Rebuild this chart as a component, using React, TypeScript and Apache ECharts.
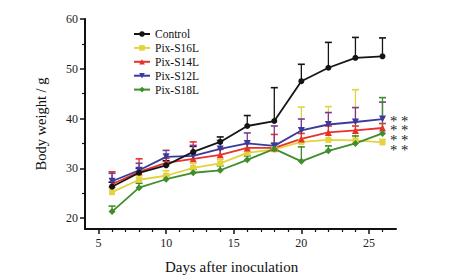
import React, { useEffect, useRef } from "react";
import * as echarts from "echarts";

const days = [6, 8, 10, 12, 14, 16, 18, 20, 22, 24, 26];
const seriesNames = ["Control", "Pix-S16L", "Pix-S14L", "Pix-S12L", "Pix-S18L"];
const controlMean = [26.3, 29.1, 30.6, 33.3, 35.3, 38.5, 39.5, 47.5, 50.2, 52.2, 52.5];
const controlTop = [27.2, 30.0, 31.5, 34.4, 36.3, 40.6, 46.2, 50.9, 55.3, 56.3, 56.2];
const s16Mean = [25.2, 27.7, 28.5, 30.1, 31.0, 33.1, 33.8, 35.3, 35.7, 35.6, 35.2];
const s16Top = [26.2, 28.5, 29.5, 31.0, 31.8, 34.0, 35.0, 42.3, 42.4, 45.8, 35.8];
const s14Mean = [26.8, 29.3, 31.1, 31.9, 32.7, 34.1, 34.1, 35.9, 37.2, 37.6, 38.1];
const s14Top = [29.3, 31.9, 32.0, 35.3, 33.8, 35.0, 36.8, 37.0, 38.5, 38.5, 39.0];
const s12Mean = [27.4, 29.6, 32.3, 32.5, 33.9, 35.0, 34.5, 37.6, 38.8, 39.3, 39.9];
const s12Top = [29.0, 31.0, 33.6, 34.6, 35.6, 37.1, 38.5, 39.9, 41.2, 42.2, 43.3];
const s18Mean = [21.3, 26.1, 27.8, 29.1, 29.6, 31.7, 33.9, 31.4, 33.5, 35.0, 37.0];
const s18Top = [22.4, 27.0, 28.5, 29.8, 30.5, 32.5, 35.0, 34.3, 34.5, 36.5, 44.2];
const yLabelValues = [20, 30, 40, 50, 60];
const yMinorValues = [25, 35, 45, 55];
const xLabelValues = [5, 10, 15, 20, 25];
const xMinorValues = [6, 7, 8, 9, 11, 12, 13, 14, 16, 17, 18, 19, 21, 22, 23, 24, 26];
const stars = ["* *", "* *", "* *", "* *"];

const FONT = "Liberation Serif";

export default function App() {
  const ref = useRef<HTMLDivElement>(null);
  useEffect(() => {
    if (!ref.current) return;
    const chart = echarts.init(ref.current, undefined, { renderer: "svg" });
    const groups = [
      { name: seriesNames[0], mean: controlMean, top: controlTop, color: "#151515", err: "#151515", symbol: "circle", size: 6, rot: 0 },
      { name: seriesNames[1], mean: s16Mean, top: s16Top, color: "#e4d33e", err: "#e4d33e", symbol: "rect", size: 6, rot: 0 },
      { name: seriesNames[2], mean: s14Mean, top: s14Top, color: "#e8312c", err: "#e8312c", symbol: "triangle", size: 7, rot: 0 },
      { name: seriesNames[3], mean: s12Mean, top: s12Top, color: "#3a3a9c", err: "#7a3a92", symbol: "triangle", size: 7, rot: 180 },
      { name: seriesNames[4], mean: s18Mean, top: s18Top, color: "#3f8e2c", err: "#3f8e2c", symbol: "diamond", size: 7, rot: 0 },
    ];
    const errSeries = groups.map((g) => ({
      type: "custom",
      name: g.name + " err",
      xAxisIndex: 0,
      yAxisIndex: 0,
      data: days.map((d, i) => [d, g.mean[i], g.top[i]]),
      encode: { x: 0, y: [1, 2] },
      renderItem: (params: any, api: any) => {
        const x = api.value(0);
        const p0 = api.coord([x, api.value(1)]);
        const p1 = api.coord([x, api.value(2)]);
        return {
          type: "group",
          children: [
            { type: "line", shape: { x1: p0[0], y1: p0[1], x2: p1[0], y2: p1[1] }, style: { stroke: g.err, lineWidth: 1.3 } },
            { type: "line", shape: { x1: p1[0] - 3.5, y1: p1[1], x2: p1[0] + 3.5, y2: p1[1] }, style: { stroke: g.err, lineWidth: 1.6 } },
          ],
        };
      },
      z: 1,
    }));
    const lineSeries = groups.map((g, k) => ({
      type: "line",
      name: g.name,
      xAxisIndex: 0,
      yAxisIndex: 0,
      data: days.map((d, i) => [d, g.mean[i]]),
      symbol: g.symbol,
      symbolSize: g.size,
      symbolRotate: g.rot,
      lineStyle: { color: g.color, width: 1.8 },
      itemStyle: { color: g.color },
      z: 3 + (k === 0 ? 5 : 0),
    }));
    const axisBase = {
      type: "value",
      axisLine: { show: true, lineStyle: { color: "#111", width: 2 } },
      splitLine: { show: false },
    };
    chart.setOption({
      animation: false,
      backgroundColor: "#ffffff",
      textStyle: { fontFamily: FONT },
      grid: { left: 85, right: 69, top: 19, bottom: 51 },
      legend: {
        data: seriesNames,
        orient: "vertical",
        left: 128,
        top: 23,
        itemWidth: 16,
        itemHeight: 7,
        itemGap: 1.9,
        textStyle: { fontFamily: FONT, fontSize: 11.5, color: "#111", lineHeight: 12 },
      },
      xAxis: [
        {
          ...axisBase,
          min: 4,
          max: 27,
          position: "bottom",
          axisTick: { show: true, customValues: xLabelValues, length: 5, lineStyle: { color: "#111", width: 1.5 } },
          axisLabel: { customValues: xLabelValues, fontFamily: FONT, fontSize: 12, color: "#222", margin: 8 },
        },
        {
          ...axisBase,
          min: 4,
          max: 27,
          position: "bottom",
          axisLine: { show: false },
          axisTick: { show: true, customValues: xMinorValues, length: 3, lineStyle: { color: "#111", width: 1.2 } },
          axisLabel: { show: false },
        },
      ],
      yAxis: [
        {
          ...axisBase,
          min: 17.8,
          max: 60,
          position: "left",
          name: "Body weight / g",
          nameLocation: "middle",
          nameGap: 37,
          nameTextStyle: { fontFamily: FONT, fontSize: 14.5, color: "#111" },
          axisTick: { show: true, customValues: yLabelValues, length: 5, lineStyle: { color: "#111", width: 1.5 } },
          axisLabel: { customValues: yLabelValues, fontFamily: FONT, fontSize: 12, color: "#222", margin: 7 },
        },
        {
          ...axisBase,
          min: 17.8,
          max: 60,
          position: "left",
          axisLine: { show: false },
          axisTick: { show: true, customValues: yMinorValues, length: 3, lineStyle: { color: "#111", width: 1.2 } },
          axisLabel: { show: false },
        },
      ],
      graphic: [
        {
          type: "text",
          left: 165,
          top: 259,
          style: { text: "Days after inoculation", font: `15px "${FONT}"`, fill: "#111" },
        },
        ...stars.map((s, i) => ({
          type: "text",
          x: 390,
          y: 120.5 + i * 9.8,
          scaleX: 1.55,
          scaleY: 1.55,
          style: { text: s, font: `9.5px "${FONT}"`, fill: "#222", verticalAlign: "middle", align: "left" },
        })),
      ],
      series: [...errSeries, ...lineSeries],
    });
    return () => chart.dispose();
  }, []);
  return <div ref={ref} style={{ position: "fixed", left: 0, top: 0, width: 465, height: 280 }} />;
}
